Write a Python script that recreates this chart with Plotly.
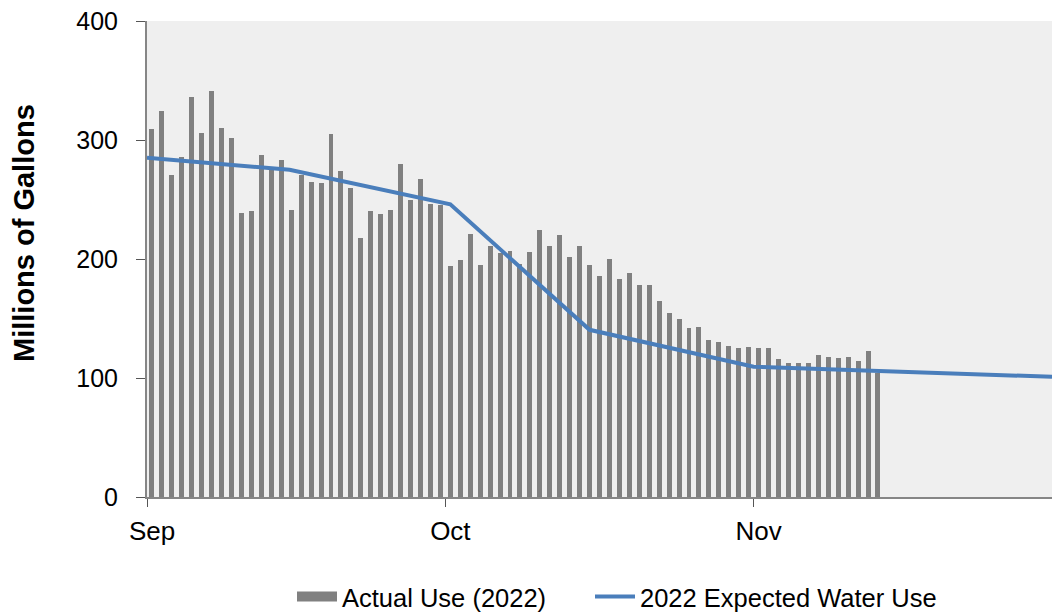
import pandas as pd
import plotly.graph_objects as go

# ---- data ----
bar_start = "2022-09-01"
actual_sep = [309, 324, 271, 286, 336, 306, 341, 310, 302, 239, 240, 287, 277, 283, 241,
              271, 265, 264, 305, 274, 260, 218, 240, 238, 241, 280, 250, 267, 246, 245]
actual_oct = [194, 199, 221, 195, 211, 205, 207, 196, 206, 224, 211, 220, 202, 211, 195,
              186, 200, 183, 188, 178, 178, 165, 155, 150, 142, 143, 132, 130, 127, 125, 126]
actual_nov = [125, 125, 116, 113, 113, 113, 119, 118, 117, 118, 114, 123, 104]
actual_values = actual_sep + actual_oct + actual_nov

expected_dates = ["2022-09-01 00:00", "2022-09-15 08:00", "2022-10-01 12:00",
                  "2022-10-15 12:00", "2022-11-01 00:00", "2022-12-01 00:00"]
expected_values = [285, 275, 246, 140.5, 109.5, 101]

tick_dates = ["2022-09-01", "2022-10-01", "2022-11-01"]
tick_labels = ["Sep", "Oct", "Nov"]
y_ticks = [0, 100, 200, 300, 400]

BAR_NAME = "Actual Use (2022)"
LINE_NAME = "2022 Expected Water Use"
Y_TITLE = "Millions of Gallons"

# ---- figure ----
bar_dates = pd.date_range(bar_start, periods=len(actual_values), freq="D") + pd.Timedelta(hours=12)
bar_color = "#808080"
line_color = "#4a7ebb"

fig = go.Figure()
fig.add_trace(go.Bar(
    x=bar_dates, y=actual_values, name=BAR_NAME,
    marker=dict(color=bar_color, line=dict(width=0)),
    width=0.5 * 86400000, showlegend=False,
))
# legend-only entry so the swatch is a wide grey block like the original
fig.add_trace(go.Scatter(
    x=[None], y=[None], mode="lines", name=BAR_NAME,
    line=dict(color=bar_color, width=13), legend="legend",
))
fig.add_trace(go.Scatter(
    x=expected_dates, y=expected_values, mode="lines",
    name=LINE_NAME, legend="legend2",
    line=dict(color=line_color, width=4),
))

font_family = "Liberation Sans, Arial, sans-serif"
legend_common = dict(orientation="h", xref="container", yref="container",
                     xanchor="left", yanchor="middle", y=1 - 597 / 614,
                     itemwidth=40,
                     font=dict(size=25.5), bgcolor="rgba(0,0,0,0)")
fig.update_layout(
    width=1052, height=614,
    margin=dict(l=147, r=0, t=21, b=117),
    paper_bgcolor="white",
    plot_bgcolor="#efefef",
    font=dict(family=font_family, size=25, color="black"),
    showlegend=True,
    legend=dict(x=292 / 1052, **legend_common),
    legend2=dict(x=590 / 1052, **legend_common),
    xaxis=dict(
        type="date",
        range=["2022-09-01", "2022-12-01"],
        tickvals=tick_dates, ticktext=tick_labels,
        ticks="outside", ticklen=8, tickcolor="#555555", tickwidth=1,
        showline=True, linecolor="#868686", linewidth=2,
        showgrid=False, zeroline=False,
        ticklabelshift=5, ticklabelstandoff=2,
        tickfont=dict(size=26),
    ),
    yaxis=dict(
        range=[0, 400],
        tickvals=y_ticks,
        ticks="outside", ticklen=9, tickcolor="#555555", tickwidth=1,
        showline=True, linecolor="#868686", linewidth=2,
        showgrid=False, zeroline=False,
        ticklabelstandoff=13, ticklabeloverflow="allow",
        tickfont=dict(size=25),
    ),
    annotations=[dict(
        text="<b>" + Y_TITLE + "</b>", textangle=-90,
        xref="paper", yref="paper", x=(24 - 147) / 905, y=(497 - 233) / 476,
        xanchor="center", yanchor="middle", showarrow=False,
        font=dict(size=29),
    )],
    bargap=0,
)

fig.write_html("out.html", config={"displayModeBar": False},
               post_script="document.body.style.margin='0';document.body.style.overflow='hidden';")
